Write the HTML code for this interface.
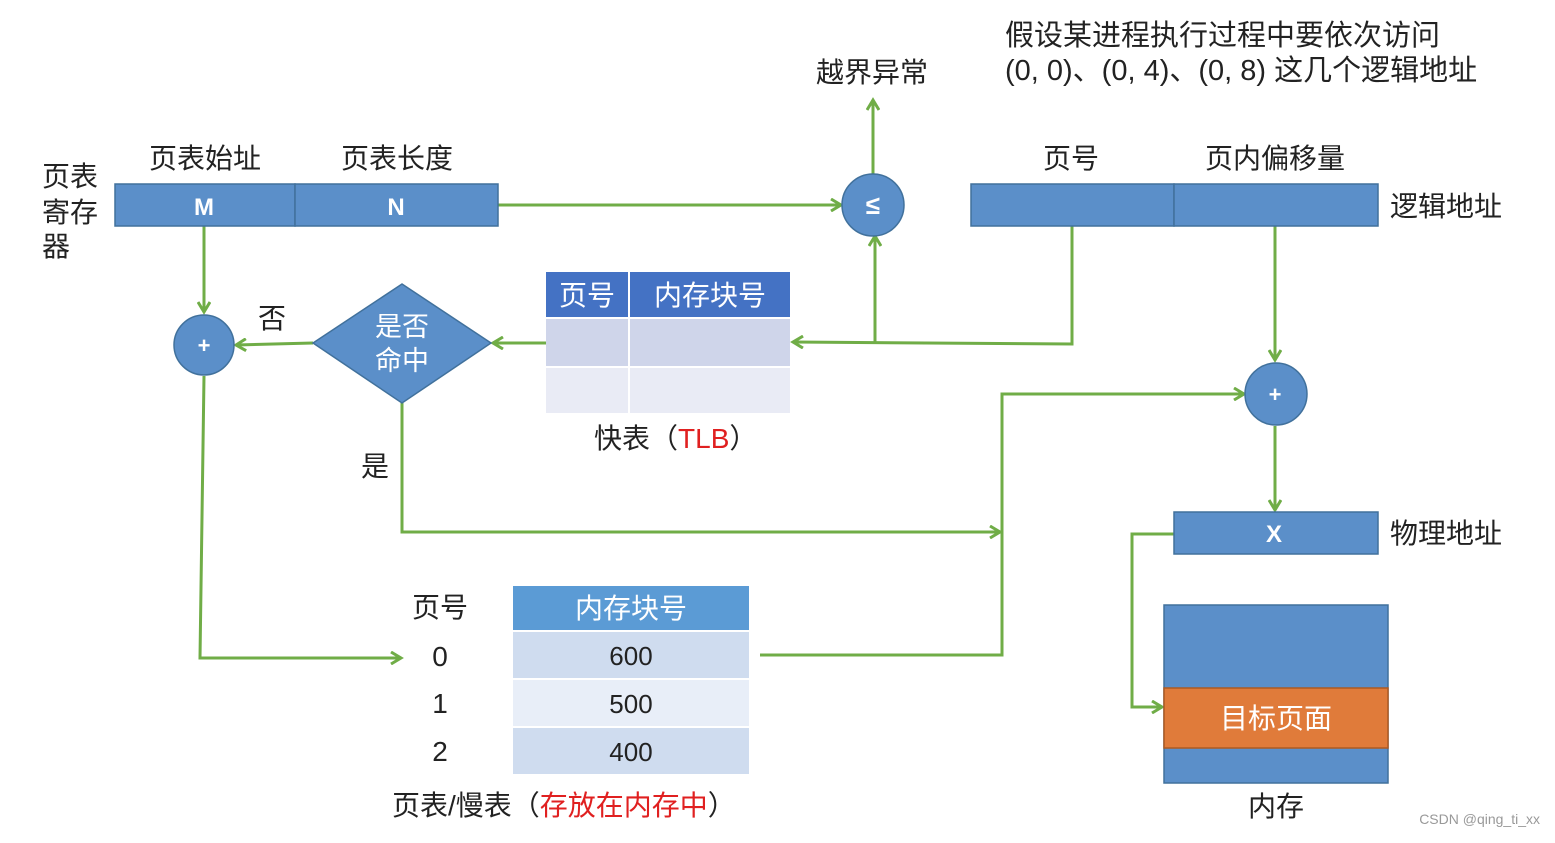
<!DOCTYPE html>
<html><head><meta charset="utf-8"><style>
body{margin:0;background:#fff}
svg text{font-family:"Liberation Sans","Noto Sans CJK SC",sans-serif}
</style></head><body>
<svg width="1555" height="838" viewBox="0 0 1555 838" xmlns="http://www.w3.org/2000/svg">
<defs><marker id="a" markerWidth="14" markerHeight="14" refX="11" refY="7" orient="auto" markerUnits="userSpaceOnUse"><path d="M1,1 L11,7 L1,13" fill="none" stroke="#70ad47" stroke-width="3"/></marker></defs>
<g fill="none" stroke="#70ad47" stroke-width="3" marker-end="url(#a)">
<path d="M498,205 H841"/>
<path d="M873,174 V100"/>
<path d="M1072,226 V344 L793,342"/>
<path d="M875,342 V236"/>
<path d="M546,343 H493"/>
<path d="M313,343 L236,345"/>
<path d="M204,226 V312"/>
<path d="M204,376 L200,658 H401"/>
<path d="M402,403 V532 H1000"/>
<path d="M760,655 H1002 V394 H1244"/>
<path d="M1275,226 V360"/>
<path d="M1275,426 V510"/>
<path d="M1174,534 H1132 V707 H1162"/>
</g>
<g font-size="28" fill="#222">
<text x="205" y="168" text-anchor="middle">页表始址</text>
<text x="397" y="168" text-anchor="middle">页表长度</text>
<text x="42" y="186">页表</text><text x="42" y="222">寄存</text><text x="42" y="256">器</text>
<text x="872" y="82" text-anchor="middle">越界异常</text>
<text x="1005" y="45" font-size="29">假设某进程执行过程中要依次访问</text>
<text x="1005" y="80" font-size="29">(0, 0)、(0, 4)、(0, 8) 这几个逻辑地址</text>
<text x="1071" y="168" text-anchor="middle">页号</text>
<text x="1275" y="168" text-anchor="middle">页内偏移量</text>
<text x="1390" y="216">逻辑地址</text>
<text x="1390" y="543">物理地址</text>
<text x="272" y="328" text-anchor="middle">否</text>
<text x="375" y="476" text-anchor="middle">是</text>
<text x="594" y="448">快表（<tspan fill="#e02020">TLB</tspan>）</text>
<text x="440" y="617" text-anchor="middle">页号</text>
<text x="440" y="666" text-anchor="middle">0</text>
<text x="440" y="713" text-anchor="middle">1</text>
<text x="440" y="761" text-anchor="middle">2</text>
<text x="392" y="815">页表/慢表（<tspan fill="#e02020">存放在内存中</tspan>）</text>
<text x="1276" y="816" text-anchor="middle">内存</text>
</g>
<g stroke="#41719c" stroke-width="1.5" fill="#5b8fc9">
<rect x="115" y="184" width="180" height="42"/><rect x="295" y="184" width="203" height="42"/>
<rect x="971" y="184" width="203" height="42"/><rect x="1174" y="184" width="204" height="42"/>
<rect x="1174" y="512" width="204" height="42"/>
<rect x="1164" y="605" width="224" height="178"/>
<circle cx="873" cy="205" r="31"/><circle cx="204" cy="345" r="30"/><circle cx="1276" cy="394" r="31"/>
<path d="M402,284 L491,343 L402,403 L313,343Z"/>
</g>
<rect x="1164" y="688" width="224" height="60" fill="#e07b3a" stroke="#ae5a21" stroke-width="1.5"/>
<rect x="546" y="272" width="82" height="45" fill="#4472c4"/><rect x="630" y="272" width="160" height="45" fill="#4472c4"/>
<rect x="546" y="319" width="82" height="47" fill="#cfd5ea"/><rect x="630" y="319" width="160" height="47" fill="#cfd5ea"/>
<rect x="546" y="368" width="82" height="45" fill="#e9ebf5"/><rect x="630" y="368" width="160" height="45" fill="#e9ebf5"/>
<rect x="513" y="586" width="236" height="44" fill="#5b9bd5"/>
<rect x="513" y="632" width="236" height="46" fill="#cfdcef"/>
<rect x="513" y="680" width="236" height="46" fill="#e8eef8"/>
<rect x="513" y="728" width="236" height="46" fill="#cfdcef"/>
<g fill="#fff" font-size="28" text-anchor="middle">
<text x="204" y="215" font-size="24" font-weight="bold">M</text><text x="396" y="215" font-size="24" font-weight="bold">N</text>
<text x="1274" y="542" font-size="24" font-weight="bold">X</text>
<text x="873" y="214" font-size="26" font-weight="bold">≤</text>
<text x="204" y="353" font-size="22" font-weight="bold">+</text><text x="1275" y="402" font-size="22" font-weight="bold">+</text>
<text x="402" y="336" font-size="27">是否</text><text x="402" y="370" font-size="27">命中</text>
<text x="587" y="305">页号</text><text x="710" y="305">内存块号</text>
<text x="631" y="618">内存块号</text>
<text x="1276" y="728">目标页面</text>
</g>
<g fill="#222" font-size="26" text-anchor="middle">
<text x="631" y="665">600</text><text x="631" y="713">500</text><text x="631" y="761">400</text>
</g>
<text x="1540" y="824" text-anchor="end" font-size="14" fill="#999">CSDN @qing_ti_xx</text>
</svg>
</body></html>
